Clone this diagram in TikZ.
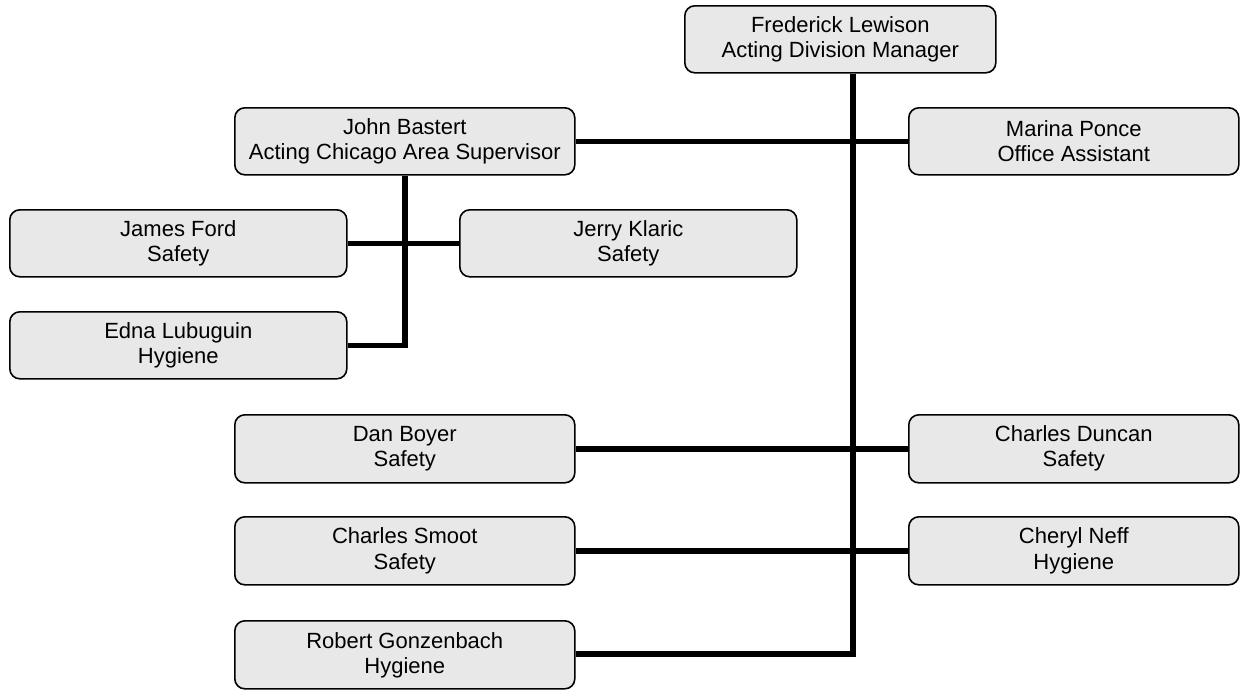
\documentclass[tikz,border=0pt]{standalone}
\usepackage{fontspec}
\setmainfont{Liberation Sans}
\begin{document}
\begin{tikzpicture}[x=1pt,y=-1pt,
  person/.style={draw=black, line width=1.6pt, fill=black!9, rounded corners=10pt,
    anchor=north west, align=center, inner sep=0pt,
    font=\fontsize{22}{25}\selectfont},
  wide/.style={person, minimum width=340pt, minimum height=67pt},
  side/.style={person, minimum width=330pt, minimum height=67pt},
  left/.style={person, minimum width=337pt, minimum height=67pt},
  conn/.style={draw=black, line width=5.4pt}]
\useasboundingbox (0,0) rectangle (1247,689);
\node[person, minimum width=311pt, minimum height=67pt] (fl) at (684,5) {Frederick Lewison\\Acting Division Manager};
\node[wide] (jb) at (234,107) {John Bastert\\Acting Chicago Area Supervisor};
\node[side] (mp) at (908,107) {Marina Ponce\\Office Assistant};
\node[left] (jf) at (9,209) {James Ford\\Safety};
\node[left] (jk) at (459,209) {Jerry Klaric\\Safety};
\node[left] (el) at (9,311) {Edna Lubuguin\\Hygiene};
\node[wide, minimum height=68pt] (db) at (234,414) {Dan Boyer\\Safety};
\node[side, minimum height=68pt] (cd) at (908,414) {Charles Duncan\\Safety};
\node[wide, minimum height=68pt] (cs) at (234,516) {Charles Smoot\\Safety};
\node[side, minimum height=68pt] (cn) at (908,516) {Cheryl Neff\\Hygiene};
\node[wide, minimum height=68pt] (rg) at (234,620) {Robert Gonzenbach\\Hygiene};
\coordinate (tb) at (853,654);
\coordinate (jv) at (jb.south |- el.east);
\draw[conn] (fl.south -| tb) -- (tb) -- (tb -| rg.east);
\draw[conn] (jb.east) -- (mp.west);
\draw[conn] (db.east) -- (cd.west);
\draw[conn] (cs.east) -- (cn.west);
\draw[conn] (jb.south) -- (jv) -- (el.east);
\draw[conn] (jf.east) -- (jk.west);
\end{tikzpicture}
\end{document}
